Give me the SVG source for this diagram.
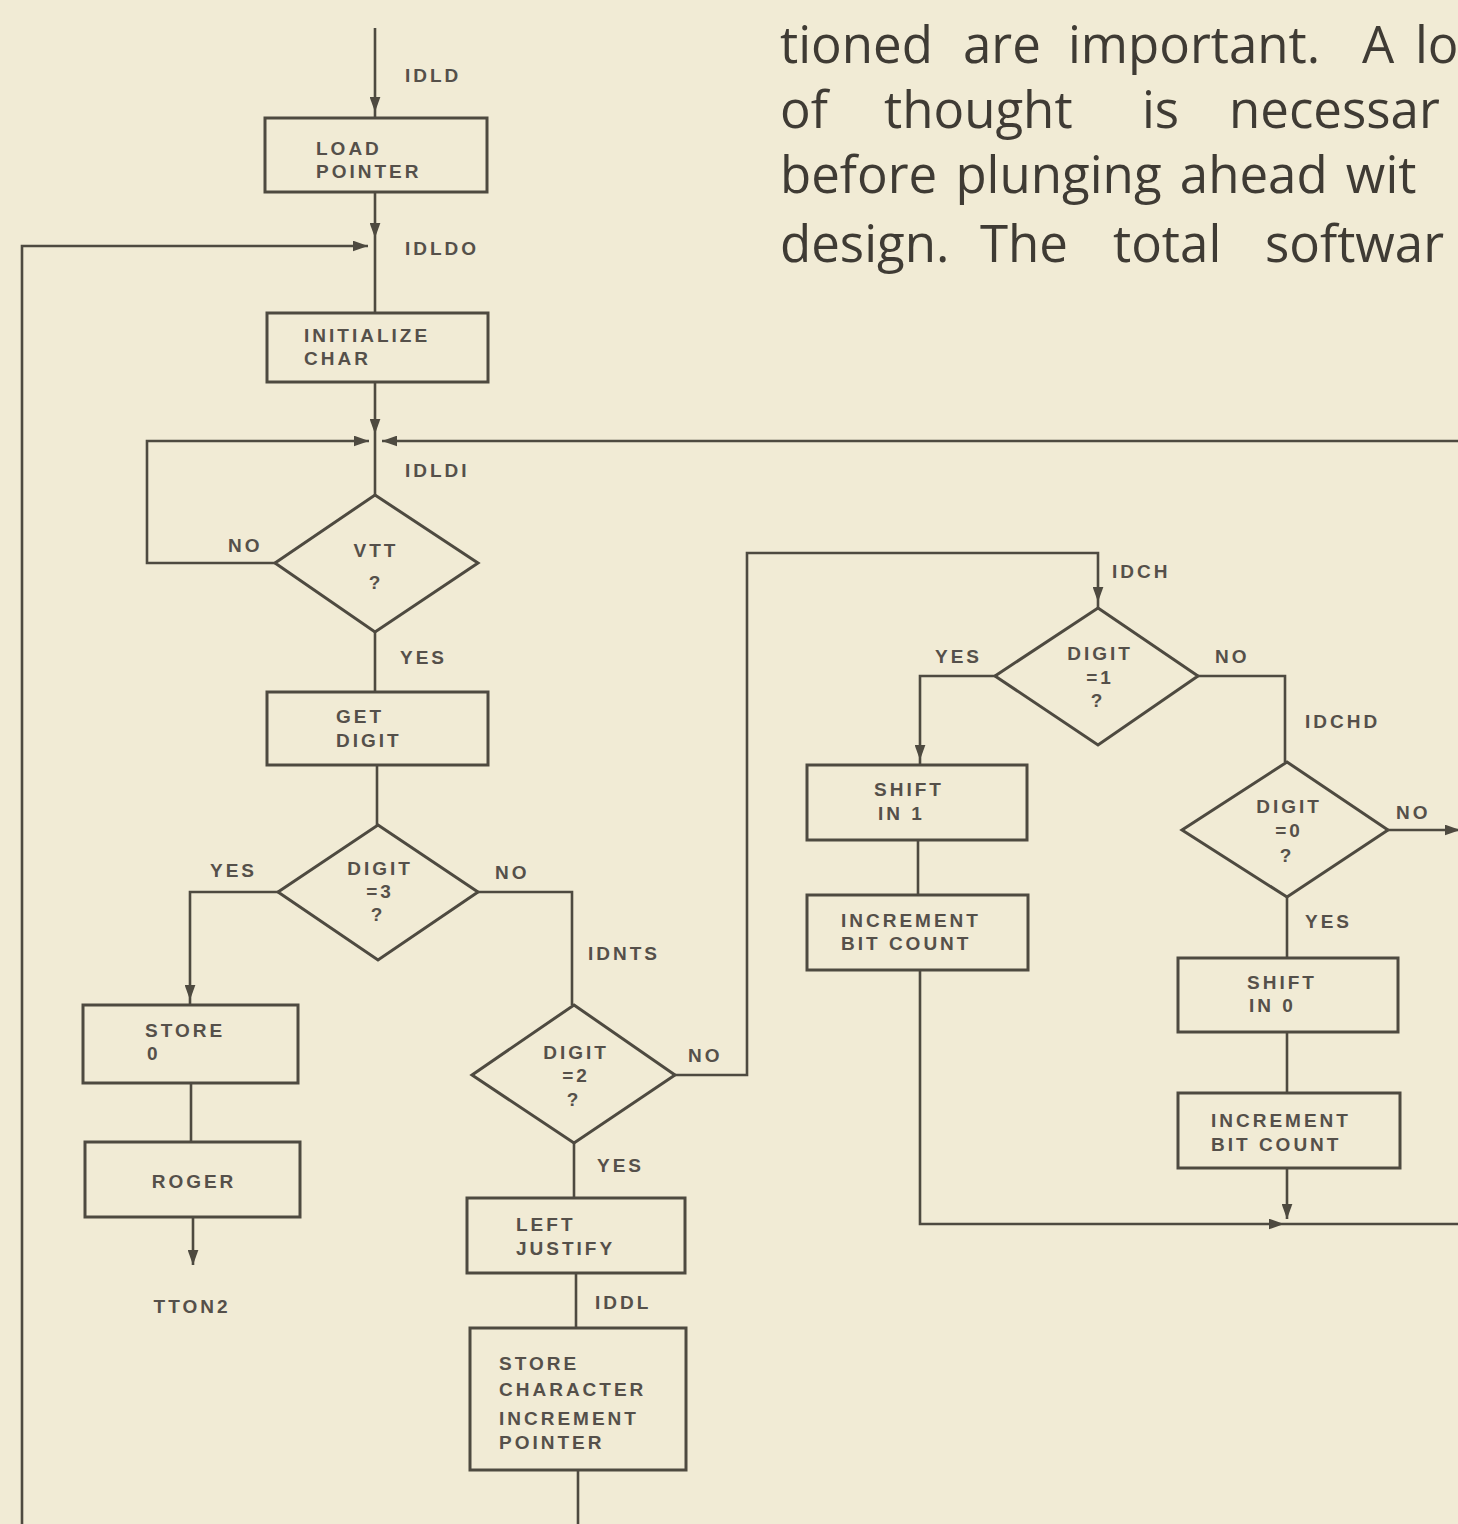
<svg xmlns="http://www.w3.org/2000/svg" width="1458" height="1524" viewBox="0 0 1458 1524">
<style>
.bg{fill:#f1ebd5}
.box{fill:none;stroke:#4e4a40;stroke-width:3}
.ln{fill:none;stroke:#4e4a40;stroke-width:2.6}
.t{font-family:"Liberation Sans",Arial,sans-serif;font-size:19px;font-weight:bold;letter-spacing:3px;fill:#55504a}
.c{text-anchor:middle}
.body{font-family:"Open Sans","Noto Sans",sans-serif;font-size:51px;fill:#3f3b34}
</style>
<defs>
<marker id="ah" viewBox="0 0 14 10" refX="14" refY="5" markerWidth="15" markerHeight="11" markerUnits="userSpaceOnUse" orient="auto">
<path d="M0,0 L14,5 L0,10 Z" fill="#4e4a40"/>
</marker>
</defs>
<rect class="bg" x="0" y="0" width="1458" height="1524"/>

<g id="body-text" class="body">
<text y="63"><tspan x="780">tioned</tspan><tspan x="963">are</tspan><tspan x="1068">important.</tspan><tspan x="1362">A</tspan><tspan x="1415">lo</tspan></text>
<text y="128"><tspan x="780">of</tspan><tspan x="884">thought</tspan><tspan x="1142">is</tspan><tspan x="1229">necessar</tspan></text>
<text x="780" y="193" word-spacing="5">before plunging ahead wit</text>
<text y="262"><tspan x="780">design.</tspan><tspan x="980">The</tspan><tspan x="1113">total</tspan><tspan x="1265">softwar</tspan></text>
</g>

<g id="connectors">
<path class="ln" d="M375,28 V112" marker-end="url(#ah)"/>
<path class="ln" d="M375,112 V118"/>
<path class="ln" d="M375,192 V238" marker-end="url(#ah)"/>
<path class="ln" d="M375,238 V313"/>
<path class="ln" d="M22,1524 V246 H368" marker-end="url(#ah)"/>
<path class="ln" d="M375,382 V434" marker-end="url(#ah)"/>
<path class="ln" d="M375,434 V495"/>
<path class="ln" d="M275,563 H147 V441 H369" marker-end="url(#ah)"/>
<path class="ln" d="M1458,441 H382" marker-end="url(#ah)"/>
<path class="ln" d="M375,632 V692"/>
<path class="ln" d="M377,765 V825"/>
<path class="ln" d="M278,892 H190 V1000" marker-end="url(#ah)"/>
<path class="ln" d="M190,1000 V1005"/>
<path class="ln" d="M478,892 H572 V1005"/>
<path class="ln" d="M191,1083 V1142"/>
<path class="ln" d="M193,1217 V1265" marker-end="url(#ah)"/>
<path class="ln" d="M675,1075 H747 V553 H1098 V602" marker-end="url(#ah)"/>
<path class="ln" d="M1098,602 V608"/>
<path class="ln" d="M574,1143 V1198"/>
<path class="ln" d="M576,1273 V1328"/>
<path class="ln" d="M578,1470 V1524"/>
<path class="ln" d="M995,676 H920 V760" marker-end="url(#ah)"/>
<path class="ln" d="M920,760 V765"/>
<path class="ln" d="M1198,676 H1285 V762"/>
<path class="ln" d="M918,840 V895"/>
<path class="ln" d="M920,970 V1224 H1284" marker-end="url(#ah)"/>
<path class="ln" d="M1284,1224 H1458"/>
<path class="ln" d="M1388,830 H1460" marker-end="url(#ah)"/>
<path class="ln" d="M1287,897 V958"/>
<path class="ln" d="M1287,1032 V1093"/>
<path class="ln" d="M1287,1168 V1219" marker-end="url(#ah)"/>
</g>

<g id="labels" class="t">
<text x="405" y="82">IDLD</text>
<text x="405" y="255">IDLDO</text>
<text x="405" y="477">IDLDI</text>
<text x="228" y="552">NO</text>
<text x="400" y="664">YES</text>
<text x="210" y="877">YES</text>
<text x="495" y="879">NO</text>
<text x="588" y="960">IDNTS</text>
<text class="c" x="192" y="1313">TTON2</text>
<text x="688" y="1062">NO</text>
<text x="597" y="1172">YES</text>
<text x="595" y="1309">IDDL</text>
<text x="1112" y="578">IDCH</text>
<text x="935" y="663">YES</text>
<text x="1215" y="663">NO</text>
<text x="1305" y="728">IDCHD</text>
<text x="1396" y="819">NO</text>
<text x="1305" y="928">YES</text>
</g>

<g id="load-pointer" class="t">
<rect class="box" x="265" y="118" width="222" height="74"/>
<text x="316" y="155">LOAD</text>
<text x="316" y="178">POINTER</text>
</g>
<g id="initialize-char" class="t">
<rect class="box" x="267" y="313" width="221" height="69"/>
<text x="304" y="342">INITIALIZE</text>
<text x="304" y="365">CHAR</text>
</g>
<g id="vtt" class="t">
<path class="box" d="M375,495 L478,563 L375,632 L275,563 Z"/>
<text class="c" x="376" y="557">VTT</text>
<text class="c" x="376" y="589">?</text>
</g>
<g id="get-digit" class="t">
<rect class="box" x="267" y="692" width="221" height="73"/>
<text x="336" y="723">GET</text>
<text x="336" y="747">DIGIT</text>
</g>
<g id="digit3" class="t">
<path class="box" d="M378,825 L478,892 L378,960 L278,892 Z"/>
<text class="c" x="380" y="875">DIGIT</text>
<text class="c" x="380" y="898">=3</text>
<text class="c" x="378" y="921">?</text>
</g>
<g id="store0" class="t">
<rect class="box" x="83" y="1005" width="215" height="78"/>
<text x="145" y="1037">STORE</text>
<text x="147" y="1060">0</text>
</g>
<g id="roger" class="t">
<rect class="box" x="85" y="1142" width="215" height="75"/>
<text class="c" x="194" y="1188">ROGER</text>
</g>
<g id="digit2" class="t">
<path class="box" d="M574,1005 L675,1075 L574,1143 L472,1075 Z"/>
<text class="c" x="576" y="1059">DIGIT</text>
<text class="c" x="576" y="1082">=2</text>
<text class="c" x="574" y="1106">?</text>
</g>
<g id="left-justify" class="t">
<rect class="box" x="467" y="1198" width="218" height="75"/>
<text x="516" y="1231">LEFT</text>
<text x="516" y="1255">JUSTIFY</text>
</g>
<g id="store-char" class="t">
<rect class="box" x="470" y="1328" width="216" height="142"/>
<text x="499" y="1370">STORE</text>
<text x="499" y="1396">CHARACTER</text>
<text x="499" y="1425">INCREMENT</text>
<text x="499" y="1449">POINTER</text>
</g>
<g id="digit1" class="t">
<path class="box" d="M1098,608 L1198,676 L1098,745 L995,676 Z"/>
<text class="c" x="1100" y="660">DIGIT</text>
<text class="c" x="1100" y="684">=1</text>
<text class="c" x="1098" y="707">?</text>
</g>
<g id="shift-in-1" class="t">
<rect class="box" x="807" y="765" width="220" height="75"/>
<text x="874" y="796">SHIFT</text>
<text x="878" y="820">IN 1</text>
</g>
<g id="inc-bit-1" class="t">
<rect class="box" x="807" y="895" width="221" height="75"/>
<text x="841" y="927">INCREMENT</text>
<text x="841" y="950">BIT COUNT</text>
</g>
<g id="digit0" class="t">
<path class="box" d="M1287,762 L1388,830 L1287,897 L1182,830 Z"/>
<text class="c" x="1289" y="813">DIGIT</text>
<text class="c" x="1289" y="837">=0</text>
<text class="c" x="1287" y="862">?</text>
</g>
<g id="shift-in-0" class="t">
<rect class="box" x="1178" y="958" width="220" height="74"/>
<text x="1247" y="989">SHIFT</text>
<text x="1249" y="1012">IN 0</text>
</g>
<g id="inc-bit-0" class="t">
<rect class="box" x="1178" y="1093" width="222" height="75"/>
<text x="1211" y="1127">INCREMENT</text>
<text x="1211" y="1151">BIT COUNT</text>
</g>
</svg>
